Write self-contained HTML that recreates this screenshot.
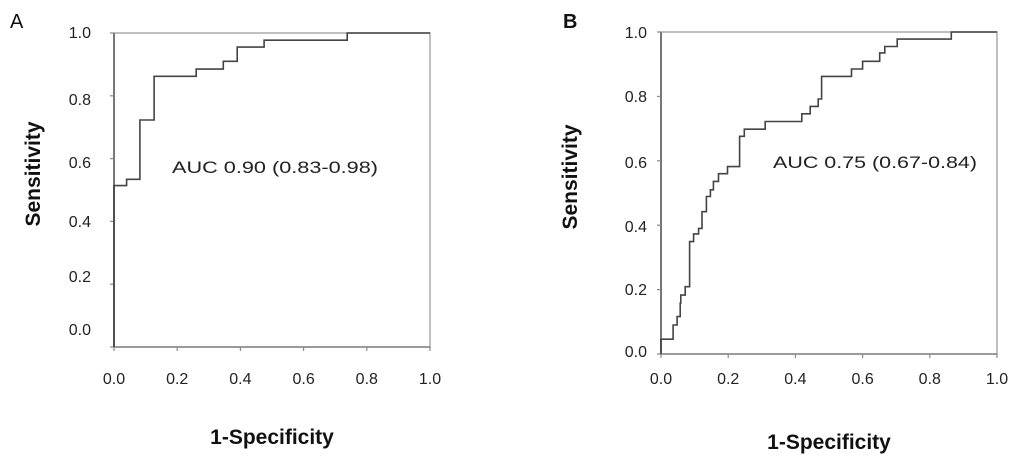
<!DOCTYPE html>
<html><head><meta charset="utf-8"><style>
html,body{margin:0;padding:0;background:#fff;}
svg{display:block;font-family:"Liberation Sans",Arial,sans-serif;}
</style></head><body>
<svg id="s" width="1024" height="467" viewBox="0 0 1024 467">
<text x="10" y="28" font-size="20" fill="#111">A</text>
<text x="563" y="28" font-size="20" font-weight="bold" fill="#111">B</text>
<g id="pa"></g>
<g id="pb"></g>
</svg>
<script>
const ticks = [0, 0.2, 0.4, 0.6, 0.8, 1.0];
const tickLabels = ["0.0","0.2","0.4","0.6","0.8","1.0"];
const aFpr  = [0, 0, 0.04, 0.04, 0.082, 0.082, 0.127, 0.127, 0.26, 0.26, 0.346, 0.346, 0.39, 0.39, 0.475, 0.475, 0.738, 0.738, 1.0];
const aTpr  = [0, 0.514, 0.514, 0.534, 0.534, 0.723, 0.723, 0.862, 0.862, 0.885, 0.885, 0.91, 0.91, 0.955, 0.955, 0.977, 0.977, 1.0, 1.0];
const bFprSteps = [0, 0.036, 0.048, 0.057, 0.059, 0.072, 0.085, 0.097, 0.112, 0.122, 0.135, 0.147, 0.156, 0.171, 0.198, 0.234, 0.248, 0.31, 0.419, 0.444, 0.468, 0.478, 0.567, 0.6, 0.651, 0.666, 0.703, 0.864, 1.0];
const bTprSteps = [0.046, 0.09, 0.116, 0.158, 0.183, 0.209, 0.349, 0.373, 0.39, 0.442, 0.489, 0.51, 0.536, 0.56, 0.582, 0.676, 0.698, 0.722, 0.746, 0.769, 0.792, 0.862, 0.885, 0.909, 0.935, 0.955, 0.978, 1.0, 1.0];
const aucA = "AUC 0.90 (0.83-0.98)";
const aucB = "AUC 0.75 (0.67-0.84)";
const yLabelPosA = [330, 277, 222, 163, 100, 33];
const yLabelPosB = [352, 290, 227, 163, 97, 33];
const NS="http://www.w3.org/2000/svg";
function mk(p,t,a){const e=document.createElementNS(NS,t);for(const k in a)e.setAttribute(k,a[k]);p.appendChild(e);return e;}
function panel(g,cfg){
  const sx=v=>cfg.x0+v*(cfg.x1-cfg.x0), sy=v=>cfg.y0-v*(cfg.y0-cfg.y1);
  const box=mk(g,'rect',{x:cfg.x0,y:cfg.y1,width:cfg.x1-cfg.x0,height:cfg.y0-cfg.y1,fill:'none',stroke:'#aaa','stroke-width':1.5});
  
  const ya=mk(g,'line',{x1:cfg.x0,y1:cfg.y0,x2:cfg.x0,y2:cfg.y1,stroke:'#777','stroke-width':2});
  
  const xa=mk(g,'line',{x1:cfg.x0,y1:cfg.y0,x2:cfg.x1,y2:cfg.y0,stroke:'#888','stroke-width':1.5});
  
  ticks.forEach((t,i)=>{
    mk(g,'line',{x1:sx(t),y1:cfg.y0,x2:sx(t),y2:cfg.y0+4,stroke:'#888','stroke-width':1.2});
    mk(g,'line',{x1:cfg.x0-4,y1:sy(t),x2:cfg.x0,y2:sy(t),stroke:'#888','stroke-width':1.2});
    const xl=mk(g,'text',{x:sx(t),y:cfg.xly,'font-size':16,'text-anchor':'middle',fill:'#222'});
    xl.textContent=tickLabels[i];
    
    const yl=mk(g,'text',{x:cfg.ylx,y:cfg.ypos[i]+5,'font-size':16,'text-anchor':'end',fill:'#222'});
    yl.textContent=tickLabels[i];
    
  });
  const pts=cfg.fx.map((v,i)=>sx(v).toFixed(1)+','+sy(cfg.fy[i]).toFixed(1)).join(' ');
  const pl=mk(g,'polyline',{points:pts,fill:'none',stroke:'#444','stroke-width':1.6});
  
  const at=mk(g,'text',{x:cfg.tx,y:cfg.ty,'font-size':17,fill:'#222',textLength:cfg.tw,lengthAdjust:'spacingAndGlyphs'});
  at.textContent=cfg.auc;
  
  const yt=mk(g,'text',{x:cfg.ytx,y:cfg.yty,'font-size':21,'font-weight':'bold','text-anchor':'middle',fill:'#111',transform:`rotate(-90 ${cfg.ytx} ${cfg.yty})`});
  yt.textContent='Sensitivity';
  
  const xt=mk(g,'text',{x:(cfg.x0+cfg.x1)/2,y:cfg.xty,'font-size':21,'font-weight':'bold','text-anchor':'middle',fill:'#111'});
  xt.textContent='1-Specificity';
  
}
const bFpr=[0], bTpr=[0];
bFprSteps.forEach((f,i)=>{bFpr.push(f);bTpr.push(i===0?bTprSteps[0]:bTprSteps[i-1]);bFpr.push(f);bTpr.push(bTprSteps[i]);});
panel(document.getElementById('pa'),{x0:114,x1:430,y0:347,y1:33,xly:384,ylx:91,ypos:yLabelPosA,fx:aFpr,fy:aTpr,auc:aucA,tx:172,ty:173,tw:206,ytx:40,yty:174,xty:444});
panel(document.getElementById('pb'),{x0:661,x1:997,y0:354,y1:32,xly:384,ylx:647,ypos:yLabelPosB,fx:bFpr,fy:bTpr,auc:aucB,tx:773,ty:168,tw:204,ytx:577,yty:177,xty:449});
</script>
</body></html>
